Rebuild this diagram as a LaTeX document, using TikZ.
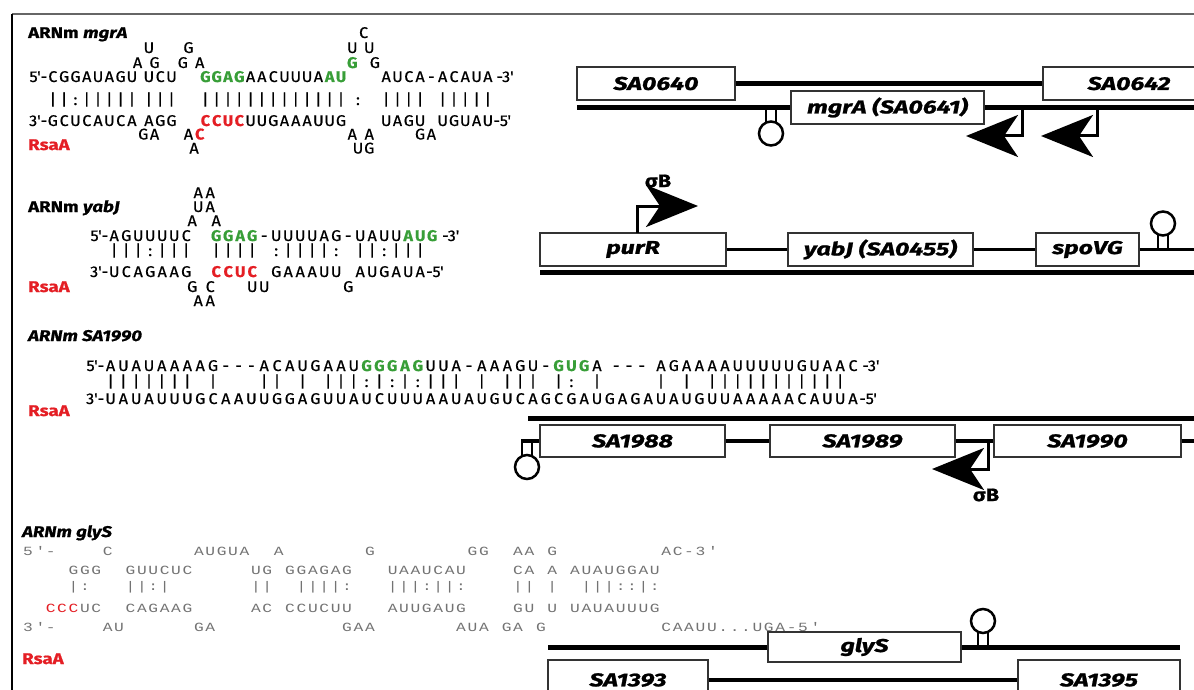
\documentclass[tikz,border=0pt]{standalone}
\usepackage{fontspec}
\setmainfont{Fira Sans}
\newfontfamily\rnafont[FakeStretch=1.04, FakeBold=0.6]{Fira Sans}
\newfontfamily\labfont[FakeStretch=1.2, FakeBold=0.8]{Fira Sans}
\newfontfamily\genefont[FakeStretch=1.35, FakeBold=1.2]{Fira Sans}
\newfontfamily\glyfont[FakeStretch=1.3]{Liberation Mono}
\usetikzlibrary{arrows.meta}
\definecolor{rnagreen}{RGB}{56,158,56}
\definecolor{rnared}{RGB}{228,30,36}
% one base per column: / = empty column, , = half column
\newlength{\rnacw}
\newcommand{\ntg}{\color{rnagreen}\bfseries}
\newcommand{\ntr}{\color{rnared}\bfseries}
\def\basesend{\basesend}
\newcommand{\bases}[1]{\basesloop#1\basesend}
\def\basesloop#1{\ifx\basesend#1\else\basesput{#1}\expandafter\basesloop\fi}
\def\basesput#1{\ifx/#1\hspace*{\rnacw}\else\ifx,#1\hspace*{.5\rnacw}\else\makebox[\rnacw]{#1}\fi\fi}

\begin{document}
\begin{tikzpicture}[x=1pt, y=-1pt,
    seq/.style={anchor=base west, inner sep=0pt,
                font=\rnafont\fontsize{15.5}{17}\selectfont,
                execute at begin node={\setlength{\rnacw}{#1pt}}},
    mono/.style={anchor=base west, inner sep=0pt, text=black!55,
                 font=\glyfont\fontsize{12.5}{14}\selectfont,
                 execute at begin node={\setlength{\rnacw}{11.4pt}}},
    headline/.style={anchor=base west, inner sep=0pt,
                     font=\labfont\bfseries\fontsize{15.5}{17}\selectfont},
    rsaa/.style={headline, text=rnared},
    gene/.style={draw=black!80, line width=1.3pt, fill=white, inner sep=0pt, minimum height=33pt,
                 font=\genefont\bfseries\itshape\fontsize{18.5}{20}\selectfont},
    dna/.style={line width=5pt},
    link/.style={line width=3.5pt},
    promo/.style={line width=3pt, -{Stealth[length=52pt, width=42pt, inset=14pt]}},
    sig/.style={inner sep=0pt, font=\labfont\bfseries\fontsize{18}{20}\selectfont},
    hairpin/.pic={
        \draw[line width=2.5pt] (-5,0) -- (-5,-15) (5,0) -- (5,-15);
        \draw[line width=2.5pt, fill=white] (0,-26) circle (12);
    },
]
\useasboundingbox (0,0) rectangle (1194,690);
% frame
\draw[black!60, line width=1.5pt] (12,14) -- (1194,14);
\draw[line width=2pt] (12,14) -- (12,690);

% mgrA duplex
\node[headline] (mg-title) at (28,38) {ARNm \textit{mgrA}};
\node[seq=11.3] (mg-l1) at (357.75,38) {\bases{C}};
\node[seq=11.3] (mg-l2a) at (143.05,53) {\bases{U}};
\node[seq=11.3] (mg-l2b) at (182.6,53) {\bases{G}};
\node[seq=11.3] (mg-l2c) at (346.45,53) {\bases{U,U}};
\node[seq=11.3] (mg-l3a) at (131.75,68) {\bases{A,G}};
\node[seq=11.3] (mg-l3b) at (176.95,68) {\bases{G,A}};
\node[seq=11.3] (mg-l3c) at (346.45,68) {\bases{{\ntg G}/G}};
\node[seq=11.3] (mg-top) at (47,82) {\llap{5'-}\bases{CGGAUAGU,UCU//{\ntg G}{\ntg G}{\ntg A}{\ntg G}AACUUUA{\ntg A}{\ntg U}///AUCA-ACAUA}\hspace{3pt}-3'};
\node[seq=11.3] (mg-bars) at (47,105) {\bases{||:|||||,|||//|||||||||||||,:/,||||/|||||}};
\node[seq=11.3] (mg-bot) at (47,126) {\llap{3'-}\bases{GCUCAUCA,AGG//{\ntr C}{\ntr C}{\ntr U}{\ntr C}UUGAAAUUG///UAGU/UGUAU}-5'};
\node[seq=11.3] (mg-l7a) at (137.4,139.5) {\bases{GA}};
\node[seq=11.3] (mg-l7b) at (182.6,139.5) {\bases{A{\ntr C}}};
\node[seq=11.3] (mg-l7c) at (346.45,139.5) {\bases{A,A}};
\node[seq=11.3] (mg-l7d) at (414.25,139.5) {\bases{GA}};
\node[seq=11.3] (mg-l8a) at (188.25,153.5) {\bases{A}};
\node[seq=11.3] (mg-l8b) at (352.1,153.5) {\bases{UG}};
\node[rsaa] (mg-rsaa) at (28,150) {RsaA};

% mgrA locus
\coordinate (mg-dl) at (577,107.5);
\coordinate (mg-dr) at (1194,107.5);
\draw[dna] (mg-dl) -- (mg-dr);
\node[gene, minimum width=158pt] (sa0640) at (656,83.5) {SA0640};
\node[gene, minimum width=172pt] (sa0642) at (1129,83.5) {SA0642};
\draw[dna] (sa0640) -- (sa0642);
\node[gene, minimum width=193pt] (mgra) at (887.5,107.5) {mgrA (SA0641)};
\pic[yscale=-1] at (771,107.5) {hairpin};
\coordinate (mg-p1) at (1022,107.5);
\coordinate (mg-p1t) at (966,136);
\draw[promo] (mg-p1) |- (mg-p1t);
\coordinate (mg-p2) at (1097,107.5);
\coordinate (mg-p2t) at (1041,136);
\draw[promo] (mg-p2) |- (mg-p2t);

% yabJ duplex
\node[headline] (yb-title) at (28,212) {ARNm \textit{yabJ}};
\node[seq=12] (yb-l1) at (192,198) {\bases{AA}};
\node[seq=12] (yb-l2) at (192,212) {\bases{UA}};
\node[seq=12] (yb-l3) at (186,226) {\bases{A/A}};
\node[seq=12] (yb-top) at (108,241) {\llap{5'-}\bases{AGUUUUC/,{\ntg G}{\ntg G}{\ntg A}{\ntg G}-UUUUAG-UAUU{\ntg A}{\ntg U}{\ntg G}}\hspace{4pt}-3'};
\node[seq=12] (yb-bars) at (108,256) {\bases{|||:|||/,||||/:||||:/||:|||}};
\node[seq=12] (yb-bot) at (108,277) {\llap{3'-}\bases{UCAGAAG/,{\ntr C}{\ntr C}{\ntr U}{\ntr C}/GAAAUU/AUGAUA}-5'};
\node[seq=12] (yb-l7a) at (186,292) {\bases{G,C}};
\node[seq=12] (yb-l7b) at (246,292) {\bases{UU}};
\node[seq=12] (yb-l7c) at (342,292) {\bases{G}};
\node[seq=12] (yb-l8) at (192,306) {\bases{AA}};
\node[rsaa] (yb-rsaa) at (28,292) {RsaA};

% yabJ locus
\coordinate (yb-dl) at (540,272);
\coordinate (yb-dr) at (1194,272);
\draw[dna] (yb-dl) -- (yb-dr);
\node[gene, minimum width=186pt] (purr) at (633,249.5) {purR};
\node[gene, minimum width=185pt] (yabj) at (880.5,249.5) {yabJ (SA0455)};
\node[gene, minimum width=103pt] (spovg) at (1087.5,249.5) {spoVG};
\coordinate (yb-end) at (1194,249.5);
\draw[link] (purr) -- (yabj);
\draw[link] (yabj) -- (spovg);
\draw[link] (spovg) -- (yb-end);
\pic at (1163,249.5) {hairpin};
\coordinate (yb-p) at (637,233);
\coordinate (yb-pt) at (698,206);
\draw[promo] (yb-p) |- (yb-pt);
\node[sig] (yb-sig) at (658,181) {σB};

% SA1990 duplex
\node[headline] (sa-title) at (28,341) {\textit{ARNm SA1990}};
\node[seq=12.8] (sa-top) at (104,371) {\llap{5'-}\bases{AUAUAAAAG---ACAUGAAU{\ntg G}{\ntg G}{\ntg G}{\ntg A}{\ntg G}UUA-AAAGU-{\ntg G}{\ntg U}{\ntg G}A,---,AGAAAAUUUUUGUAAC}\hspace{3pt}-3'};
\node[seq=12.8] (sa-bars) at (104,387) {\bases{|||||||/|///||/|/|||:|:|:|||/|/|||/|:/|////|/|/|||||||||||}};
\node[seq=12.8] (sa-bot) at (104,404) {\llap{3'-}\bases{UAUAUUUGCAAUUGGAGUUAUCUUUAAUAUGUCAGCGAUGAGAUAUGUUAAAAACAUUA}-5'};
\node[rsaa] (sa-rsaa) at (28,416) {RsaA};

% SA1990 locus
\coordinate (sa-dl) at (528,418);
\coordinate (sa-dr) at (1194,418);
\draw[dna] (sa-dl) -- (sa-dr);
\node[gene, minimum width=185pt, minimum height=32pt] (sa1988) at (632.5,441) {SA1988};
\node[gene, minimum width=185pt, minimum height=32pt] (sa1989) at (862.5,441) {SA1989};
\node[gene, minimum width=187pt, minimum height=32pt] (sa1990) at (1087.5,441) {SA1990};
\coordinate (sa-stem) at (521,441);
\coordinate (sa-end) at (1194,441);
\draw[link] (sa-stem) -- (sa1988);
\draw[link] (sa1988) -- (sa1989);
\draw[link] (sa1989) -- (sa1990);
\draw[link] (sa1990) -- (sa-end);
\pic[yscale=-1] at (527,441) {hairpin};
\coordinate (sa-p) at (988,441);
\coordinate (sa-pt) at (932,469);
\draw[promo] (sa-p) |- (sa-pt);
\node[sig] (sa-sig) at (986,495) {σB};

% glyS duplex
\node[headline] (gl-title) at (22,537) {\textit{ARNm glyS}};
\node[mono] (gl-r1) at (22,555) {\bases{5{\textquotesingle}-////C///////AUGUA//A///////G////////GG//AA/G/////////AC-3{\textquotesingle}}};
\node[mono] (gl-r2) at (22,574) {\bases{////GGG//GUUCUC/////UG/GGAGAG///UAAUCAU////CA/A/AUAUGGAU}};
\node[mono] (gl-bars) at (22,590) {\bases{////|:///||:|///////||//||||:///|||:||:////||/|//|||::|:}};
\node[mono] (gl-r4) at (22,612) {\bases{//{\color{rnared}C}{\color{rnared}C}{\color{rnared}C}UC//CAGAAG/////AC/CCUCUU///AUUGAUG////GU/U/UAUAUUUG}};
\node[mono] (gl-r5) at (22,631) {\bases{3{\textquotesingle}-////AU//////GA///////////GAA///////AUA/GA/G//////////CAAUU...UGA-5{\textquotesingle}}};
\node[rsaa] (gl-rsaa) at (22,664) {RsaA};

% glyS locus
\coordinate (gl-dl) at (548,647);
\coordinate (gl-dr) at (1180,647);
\draw[dna] (gl-dl) -- (gl-dr);
\node[gene, minimum width=193pt, minimum height=30pt] (glys) at (864.5,647) {glyS};
\node[gene, minimum width=160pt, minimum height=40pt] (sa1393) at (628,680) {SA1393};
\node[gene, minimum width=162pt, minimum height=40pt] (sa1395) at (1099,680) {SA1395};
\draw[link] (sa1393) -- (sa1395);
\pic at (983,647) {hairpin};
\end{tikzpicture}
\end{document}
